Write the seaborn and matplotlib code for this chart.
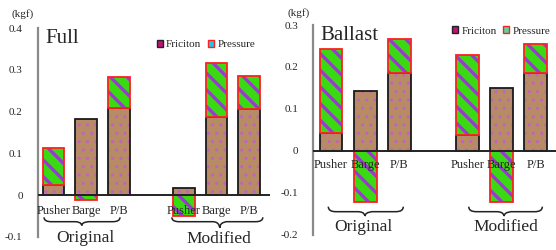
import matplotlib
matplotlib.use("Agg")
from matplotlib import pyplot as plt
from matplotlib.patches import Patch, PathPatch
from matplotlib.path import Path
import seaborn as sns
import numpy as np

parts = ["Pusher", "Barge", "P/B"]
groups = ["Original", "Modified"]
x_pos = [0, 1, 2, 4, 5, 6]

full_friction = [0.024, 0.182, 0.208, 0.018, 0.186, 0.206]
full_pressure = [0.090, -0.012, 0.076, -0.050, 0.131, 0.080]
ballast_friction = [0.042, 0.144, 0.186, 0.037, 0.151, 0.186]
ballast_pressure = [0.202, -0.121, 0.080, 0.192, -0.121, 0.069]

full_ticks = [-0.1, 0, 0.1, 0.2, 0.3, 0.4]
full_ticklabels = ["-0.1", "0", "0.1", "0.2", "0.3", "0.4"]
ballast_ticks = [-0.2, -0.1, 0, 0.1, 0.2, 0.3]
ballast_ticklabels = ["-0.2", "-0.1", "0", "0.1", "0.2", "0.3"]

sns.set_style("white")
plt.rcParams["font.family"] = ["Liberation Serif", "DejaVu Serif"]
plt.rcParams["hatch.linewidth"] = 2.4

FRIC_FACE = "#b68b66"
FRIC_HATCH = "#c460c4"
PRES_FACE = "#3ada12"
PRES_HATCH = "#9a3ad0"


def draw_layer(ax, heights, bottoms, face, hatch_color, hatch, edge, hlw):
    # fill + hatch first, then the outline on top
    sns.barplot(x=x_pos, y=heights, native_scale=True, width=0.67, errorbar=None,
                saturation=1, ax=ax)
    for p, b in zip(ax.containers[-1], bottoms):
        p.set_y(b)
        p.set_facecolor(face)
        p.set_edgecolor(hatch_color)
        p.set_linewidth(0)
        p.set_hatch(hatch)
        if hasattr(p, "set_hatch_linewidth"):
            p.set_hatch_linewidth(hlw)
    sns.barplot(x=x_pos, y=heights, native_scale=True, width=0.67, errorbar=None,
                saturation=1, ax=ax)
    for p, b in zip(ax.containers[-1], bottoms):
        p.set_y(b)
        p.set_facecolor("none")
        p.set_edgecolor(edge)
        p.set_linewidth(1.3)


def brace(ax, x0, x1, xm, y_end, y_body, y_tip, r=0.22):
    verts = [(x0, y_end), (x0, y_body), (x0 + r, y_body), (x0 + r, y_body),
             (xm - r, y_body),
             (xm, y_body), (xm, y_tip), (xm, y_tip),
             (xm, y_body), (xm + r, y_body), (xm + r, y_body),
             (x1 - r, y_body),
             (x1, y_body), (x1, y_end)]
    codes = [Path.MOVETO, Path.CURVE3, Path.CURVE3, Path.LINETO,
             Path.LINETO,
             Path.CURVE4, Path.CURVE4, Path.CURVE4,
             Path.CURVE4, Path.CURVE4, Path.CURVE4,
             Path.LINETO,
             Path.CURVE3, Path.CURVE3]
    ax.add_patch(PathPatch(Path(verts, codes), facecolor="none", edgecolor="#222222",
                           lw=1.1, clip_on=False))


def panel(ax, friction, pressure, ticks, ticklabels, ylim, xlim, title,
          cat_y, braces, group_xy, legend_anchor, pres_legend_color):
    fric = np.array(friction)
    pres = np.array(pressure)
    pres_bottom = np.where(pres > 0, fric, 0)
    draw_layer(ax, fric, np.zeros_like(fric), FRIC_FACE, FRIC_HATCH, "..", "#1a1a1a", 1.0)
    draw_layer(ax, pres, pres_bottom, PRES_FACE, PRES_HATCH, "\\\\", "#ff2020", 2.4)

    ax.axhline(0, color="#222222", lw=1.4, zorder=3)
    ax.set_xlim(*xlim)
    ax.set_ylim(*ylim)
    ax.set_yticks(ticks)
    ax.set_yticklabels(ticklabels, fontsize=8)
    ax.set_xticks([])
    ax.tick_params(axis="y", length=0, pad=11)
    for s in ["top", "right", "bottom"]:
        ax.spines[s].set_visible(False)
    ax.spines["left"].set_color("#8a8a8a")
    ax.spines["left"].set_linewidth(1.6)

    for x, lab in zip(x_pos, parts * 2):
        ax.text(x, cat_y, lab, ha="center", va="center", fontsize=9, clip_on=False)
    for (x0, x1, xm, ye, yb, yt) in braces:
        brace(ax, x0, x1, xm, ye, yb, yt)
    for (gx, gy), g in zip(group_xy, groups):
        ax.text(gx, gy, g, ha="center", va="center", fontsize=12.5, clip_on=False)

    ax.text(0.03, 0.995, title, transform=ax.transAxes, ha="left", va="top", fontsize=15)

    handles = [Patch(facecolor="#c0107a", edgecolor="#222222", lw=1.0),
               Patch(facecolor=pres_legend_color, edgecolor="#ff2020", lw=1.0)]
    ax.legend(handles, ["Friciton", "Pressure"], ncol=2, frameon=False, fontsize=8,
              loc="upper right", bbox_to_anchor=legend_anchor, handlelength=0.55,
              handleheight=0.55, handletextpad=0.3, columnspacing=0.6, borderaxespad=0)


fig = plt.figure(figsize=(5.56, 2.5), dpi=100)
ax1 = fig.add_axes([0.0683, 0.0532, 0.4173, 0.8336])
ax2 = fig.add_axes([0.5635, 0.06, 0.4365, 0.84])

panel(ax1, full_friction, full_pressure, full_ticks, full_ticklabels, (-0.1, 0.4),
      (-0.475, 6.64), "Full", -0.038,
      [(-0.29, 2.04, 0.87, -0.0535, -0.064, -0.073),
       (3.63, 6.42, 5.1, -0.0535, -0.064, -0.079)],
      [(0.98, -0.104), (5.07, -0.106)], (0.955, 0.965), "#20c8e0")

panel(ax2, ballast_friction, ballast_pressure, ballast_ticks, ballast_ticklabels,
      (-0.2, 0.3), (-0.52, 6.6), "Ballast", -0.033,
      [(-0.08, 2.12, 1.0, -0.1326, -0.1445, -0.155),
       (4.04, 6.2, 5.08, -0.1326, -0.1445, -0.155)],
      [(0.94, -0.18), (5.13, -0.18)], (0.995, 1.015), "#50d8a0")

fig.text(0.0414, 0.944, "(kgf)", ha="center", va="center", fontsize=8)
fig.text(0.5378, 0.948, "(kgf)", ha="center", va="center", fontsize=8)

fig.savefig("out.png", dpi=100)
plt.close(fig)
